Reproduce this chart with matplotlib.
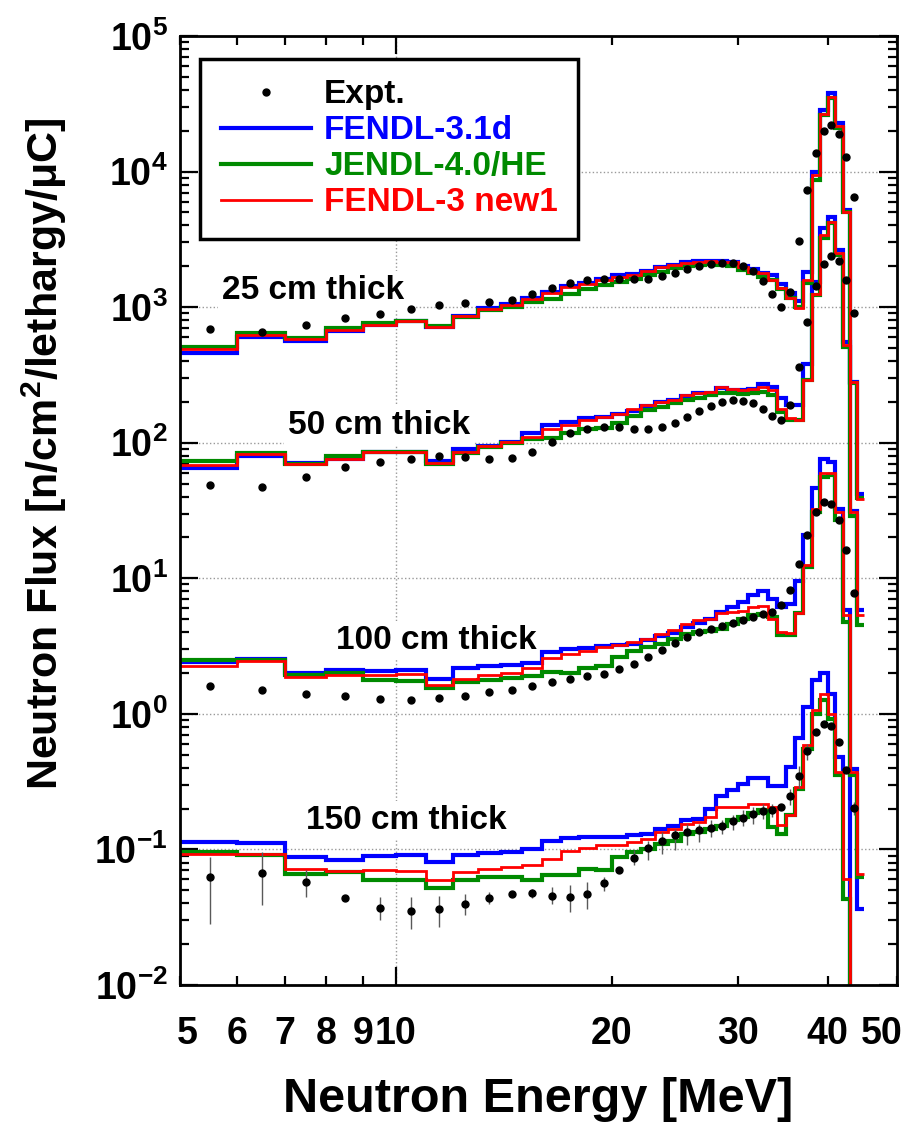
import numpy as np
import matplotlib.pyplot as plt
import matplotlib.transforms as mtransforms
from matplotlib.lines import Line2D
from matplotlib.ticker import LogLocator, NullFormatter

plt.rcParams['font.family'] = ['Liberation Sans', 'DejaVu Sans']
plt.rcParams['font.weight'] = 'bold'
plt.rcParams['mathtext.fontset'] = 'custom'
plt.rcParams['mathtext.rm'] = 'Liberation Sans:bold'
plt.rcParams['mathtext.bf'] = 'Liberation Sans:bold'
plt.rcParams['mathtext.it'] = 'Liberation Sans:bold'
plt.rcParams['mathtext.default'] = 'bf'

# bin edges of calculated spectra [MeV], measured points sit at bin centres
edges = np.arange(5, 46)
e_expt = np.arange(5.5, 44, 1.0)

# 25 cm thick
f25_fendl31 = [460, 604, 561, 661, 733, 785, 708, 863, 977, 1047, 1170, 1303, 1429, 1514, 1622,
               1722, 1758, 1862, 1972, 2042, 2138, 2173, 2198, 2178, 2163, 2018, 1905, 1791, 1738, 1479,
               1276, 1112, 1820, 10000, 28440, 37760, 22700, 5200, 282, 42]
f25_jendl = [509, 646, 589, 703, 759, 794, 724, 851, 955, 1000, 1096, 1148, 1259, 1349, 1445,
             1531, 1603, 1722, 1820, 1928, 2009, 2042, 2065, 2042, 2018, 1875, 1791, 1675, 1585, 1349,
             1159, 995, 1496, 8650, 26120, 34670, 20890, 5012, 275, 38.9]
f25_new1 = [488, 628, 578, 676, 736, 789, 716, 861, 973, 1040, 1153, 1279, 1396, 1479, 1592,
            1679, 1738, 1854, 1963, 2042, 2123, 2163, 2188, 2163, 2138, 1963, 1820, 1770, 1585, 1374,
            1159, 977, 1585, 9419, 26550, 35650, 21680, 5047, 281, 38.7]
x25 = [684, 658, 741, 826, 887, 964, 1030, 1067, 1091, 1127, 1239, 1387, 1517, 1585, 1603,
       1607, 1603, 1622, 1694, 1791, 1897, 2009, 2089, 2123, 2104, 2009, 1845, 1563, 1259, 995,
       1288, 3090, 7295, 13610, 19950, 22030, 19050, 12880, 6516]

# 50 cm thick
f50_fendl31 = [65.6, 79.4, 70.8, 75.9, 85.1, 85.1, 73.8, 89.3, 94.8, 102, 117.5, 134, 143, 151, 155,
               164, 172, 186, 200, 206, 221, 231, 234, 254, 244, 244, 250, 270, 258, 212,
               189, 189, 378, 1538, 3802, 4645, 2630, 555, 31.6, 5.81]
f50_jendl = [72.9, 84.1, 70.1, 79.4, 86.1, 86.1, 70, 84.1, 92.9, 99.5, 106, 109, 117.5, 126, 129,
             140, 158, 174, 184, 195, 206, 214, 224, 231, 231, 228, 231, 237, 224, 169,
             148, 147, 288, 1230, 3214, 4150, 2421, 509, 28.8, 4.5]
f50_new1 = [68.2, 83.2, 70.1, 75.2, 84.7, 84.9, 70.8, 85.5, 94.2, 101, 111, 127, 136, 147, 155,
            162, 176, 189, 200, 206, 224, 231, 237, 258, 251, 244, 247, 258, 245, 177,
            151, 147, 289, 1259, 3396, 4266, 2489, 525, 30.9, 5.33]
x50 = [49, 47, 55.7, 66.2, 72.4, 76.4, 79.4, 78.5, 75.5, 76.9, 85.5, 101, 118, 127, 130,
       130, 126, 126, 130, 139, 154, 172, 187, 200, 205, 202, 195, 178, 158, 147,
       189, 363, 776, 1422, 2070, 2377, 2173, 1574, 908]

# 100 cm thick
f100_fendl31 = [2.41, 2.55, 2.0, 2.09, 2.07, 2.12, 1.82, 2.16, 2.24, 2.31, 2.39, 2.86, 2.99, 3.08, 3.15,
                3.21, 3.26, 3.49, 3.73, 3.95, 4.37, 4.68, 5.04, 5.64, 6.14, 6.68, 7.48, 8.05, 7.08, 6.14,
                6.5, 9.55, 20.7, 46.5, 75.2, 72.1, 32.7, 5.81, 0.394, 0.0366]
f100_jendl = [2.51, 2.51, 1.92, 2.0, 1.77, 1.75, 1.55, 1.72, 1.79, 1.84, 1.89, 2.04, 2.01, 2.16, 2.24,
              2.63, 2.9, 3.12, 3.3, 3.59, 3.91, 4.02, 4.08, 4.26, 4.62, 5.04, 5.33, 5.48, 5.18, 3.79,
              3.79, 5.58, 12.1, 30.9, 56, 57.5, 26.8, 4.76, 0.352, 0.063]
f100_new1 = [2.26, 2.45, 1.87, 1.92, 1.95, 1.98, 1.62, 1.82, 1.95, 2.01, 2.16, 2.6, 2.75, 2.89, 3.12,
             3.21, 3.39, 3.59, 3.91, 4.13, 4.62, 4.9, 5.04, 5.55, 5.64, 5.74, 6.14, 6.25, 5.04, 4.02,
             3.98, 5.58, 12.5, 32.4, 59.8, 59.8, 30.9, 5.33, 0.372, 0.066]
x100 = [1.61, 1.49, 1.41, 1.35, 1.29, 1.27, 1.30, 1.36, 1.44, 1.51, 1.61, 1.71, 1.81, 1.89, 1.98,
        2.14, 2.35, 2.63, 2.98, 3.33, 3.69, 3.99, 4.23, 4.48, 4.71, 4.95, 5.18, 5.42, 5.68, 6.31,
        8.15, 12.8, 20.7, 30.9, 36.6, 35.6, 26.8, 16.2, 7.76]

# 150 cm thick (0 = empty bin)
f150_fendl31 = [0.113, 0.111, 0.0877, 0.0839, 0.0887, 0.0904, 0.0805, 0.0904, 0.094, 0.0955, 0.1, 0.116,
                0.122, 0.123, 0.123, 0.124, 0.127, 0.131, 0.142, 0.15, 0.164, 0.169, 0.2, 0.246, 0.272,
                0.302, 0.338, 0.338, 0.292, 0.296, 0.406, 0.667, 1.12, 1.77, 2.0, 1.41, 0.48, 0.394, 0, 0]
f150_jendl = [0.0955, 0.0904, 0.0661, 0.068, 0.0597, 0.059, 0.0521, 0.059, 0.0631, 0.0631, 0.0597, 0.0653,
              0.0653, 0.072, 0.07, 0.0877, 0.0955, 0.101, 0.11, 0.116, 0.131, 0.134, 0.142, 0.15, 0.164,
              0.173, 0.185, 0.194, 0.146, 0.131, 0.178, 0.281, 0.553, 1.0, 1.26, 0.92, 0.352, 0.0432, 0, 0]
f150_new1 = [0.0918, 0.0918, 0.0711, 0.0689, 0.0708, 0.0692, 0.059, 0.068, 0.072, 0.0741, 0.0762, 0.0851,
             0.0966, 0.102, 0.107, 0.108, 0.113, 0.12, 0.134, 0.142, 0.155, 0.159, 0.173, 0.205, 0.205,
             0.205, 0.217, 0.217, 0.205, 0.152, 0.178, 0.288, 0.585, 1.07, 1.41, 1.0, 0.372, 0.0607, 0, 0]
x150 = [0.0625, 0.0673, 0.0574, 0.044, 0.0372, 0.0351, 0.0366, 0.0398, 0.044, 0.0471, 0.0475, 0.0455,
        0.0445, 0.0471, 0.0564, 0.0708, 0.0867, 0.103, 0.116, 0.127, 0.134, 0.138, 0.145, 0.15, 0.161,
        0.171, 0.183, 0.192, 0.196, 0.207, 0.246, 0.348, 0.533, 0.736, 0.847, 0.809, 0.619, 0.387, 0.202]
x150_lo = [0.0283, 0.0386, 0.0445, 0.043, 0.0299, 0.026, 0.0269, 0.0326, 0.0398, 0.046, 0.044, 0.0393,
           0.0344, 0.0365, 0.0493, 0.068, 0.0767, 0.0839, 0.0929, 0.0984, 0.107, 0.113, 0.123, 0.131, 0.138,
           0.15, 0.155, 0.169, 0.173, 0.2, 0.211, 0.286, 0.454, 0.7, 0.82, 0.78, 0.59, 0.37, 0.178]
x150_hi = [0.0877, 0.0955, 0.07, 0.045, 0.0445, 0.0445, 0.0457, 0.0471, 0.0484, 0.048, 0.0513, 0.0527,
           0.0542, 0.0574, 0.0625, 0.073, 0.099, 0.116, 0.134, 0.142, 0.155, 0.155, 0.164, 0.166, 0.178,
           0.194, 0.205, 0.217, 0.217, 0.215, 0.281, 0.413, 0.603, 0.77, 0.88, 0.84, 0.65, 0.4, 0.223]

groups = [
    ('25 cm thick', f25_fendl31, f25_jendl, f25_new1, x25, (5.72, 1330)),
    ('50 cm thick', f50_fendl31, f50_jendl, f50_new1, x50, (7.07, 135)),
    ('100 cm thick', f100_fendl31, f100_jendl, f100_new1, x100, (8.25, 3.48)),
    ('150 cm thick', f150_fendl31, f150_jendl, f150_new1, x150, (7.5, 0.164)),
]

c_blue = '#0000ff'
c_green = '#008a00'
c_red = '#ff0000'

fig = plt.figure(figsize=(9.19, 11.31), dpi=100)
ax = fig.add_axes([0.1959, 0.1291, 0.7802, 0.8391])
ax.set_xscale('log')
ax.set_yscale('log')
ax.set_xlim(5, 50)
ax.set_ylim(1e-2, 1e5)
ax.set_axisbelow(True)


def floor(v):
    # empty bins drop to the bottom of the frame
    v = np.asarray(v, dtype=float)
    return np.where(v > 0, v, 1e-6)


for name, fb, fg, fr, xe, tpos in groups:
    ax.stairs(floor(fb), edges, baseline=None, color=c_blue, lw=3.0, zorder=2)
    ax.stairs(floor(fg), edges, baseline=None, color=c_green, lw=3.0, zorder=2.1)
    ax.stairs(floor(fr), edges, baseline=None, color=c_red, lw=2.0, zorder=2.2)
    ax.plot(e_expt, xe, 'o', color='black', ms=5, zorder=3)
    ax.text(tpos[0], tpos[1], name, fontsize=24, fontweight='bold', ha='left', va='center',
            zorder=1.5, bbox=dict(facecolor='white', edgecolor='none', pad=3))

# error bars of the 150 cm data
x150 = np.array(x150)
yerr = [x150 - np.array(x150_lo), np.array(x150_hi) - x150]
ax.errorbar(e_expt, x150, yerr=yerr, fmt='none', ecolor='0.35', elinewidth=1, capsize=0, zorder=2.9)

# axes styling
for s in ax.spines.values():
    s.set_linewidth(2.0)
ax.grid(True, which='major', ls=':', color='0.6', lw=1)

ax.set_xticks([10], labels=['10'])
ax.set_xticks([5, 6, 7, 8, 9, 20, 30, 40, 50],
              labels=['5', '6', '7', '8', '9', '20', '30', '40', '50'], minor=True)
ax.yaxis.set_major_locator(LogLocator(base=10, numticks=20))
ax.yaxis.set_minor_locator(LogLocator(base=10, subs=np.arange(2, 10), numticks=20))
ax.yaxis.set_minor_formatter(NullFormatter())
yt = [1e-2, 1e-1, 1, 10, 1e2, 1e3, 1e4, 1e5]
ax.set_yticks(yt, labels=[r'$10^{%d}$' % int(np.log10(v)) for v in yt])

ax.tick_params(which='both', direction='in', top=True, right=True, width=1.6)
ax.tick_params(which='major', length=13)
ax.tick_params(which='minor', length=6.5)
ax.tick_params(axis='x', which='both', labelsize=27, pad=22)
ax.tick_params(axis='y', which='major', labelsize=27, pad=9)

# edge labels nudged inside the frame, as in the original
for t in ax.xaxis.get_minor_ticks():
    if t.label1.get_text() == '5':
        off = mtransforms.ScaledTranslation(7 / 100, 0, fig.dpi_scale_trans)
        t.label1.set_transform(t.label1.get_transform() + off)
    if t.label1.get_text() == '50':
        off = mtransforms.ScaledTranslation(-15 / 100, 0, fig.dpi_scale_trans)
        t.label1.set_transform(t.label1.get_transform() + off)

ax.set_xlabel('Neutron Energy [MeV]', fontsize=35, fontweight='bold')
ax.xaxis.set_label_coords(0.5, -0.097)
ax.set_ylabel(r'Neutron Flux [n/cm$^{2}$/lethargy/μC]', fontsize=31, fontweight='bold')
ax.yaxis.set_label_coords(-0.155, 0.56)

handles = [Line2D([], [], ls='none', marker='o', color='black', ms=5),
           Line2D([], [], color=c_blue, lw=3.0),
           Line2D([], [], color=c_green, lw=3.0),
           Line2D([], [], color=c_red, lw=2.0)]
labels = ['Expt.', 'FENDL-3.1d', 'JENDL-4.0/HE', 'FENDL-3 new1']
leg = ax.legend(handles, labels, loc='upper left', bbox_to_anchor=(0.0279, 0.976),
                prop={'size': 24, 'weight': 'bold'}, frameon=True, fancybox=False,
                edgecolor='black', framealpha=1, handlelength=2.7, handletextpad=0.4,
                labelspacing=0.15, borderpad=0.62, borderaxespad=0,
                labelcolor=['black', c_blue, c_green, c_red])
leg.get_frame().set_linewidth(2.5)
leg.set_zorder(5)

fig.savefig('out.png', dpi=100)
